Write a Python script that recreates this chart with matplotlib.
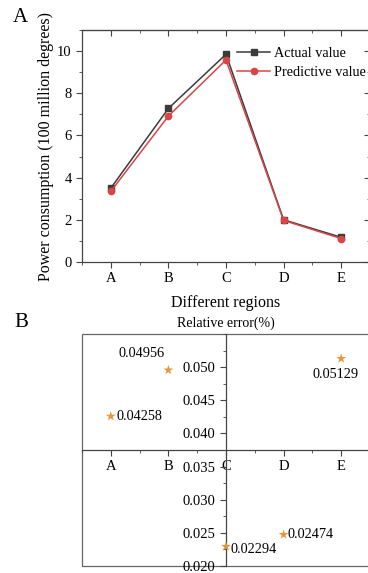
import matplotlib.pyplot as plt
from matplotlib.patches import Rectangle
from matplotlib.ticker import MultipleLocator

# ------------------------------------------------------------
# Data
# ------------------------------------------------------------
regions = ["A", "B", "C", "D", "E"]
actual_value = [3.50, 7.28, 9.85, 2.00, 1.17]
predictive_value = [3.35, 6.92, 9.58, 1.97, 1.11]
relative_error = [0.04258, 0.04956, 0.02294, 0.02474, 0.05129]
error_labels = ["0.04258", "0.04956", "0.02294", "0.02474", "0.05129"]

plt.rcParams['font.family'] = ['Liberation Serif', 'DejaVu Serif']

SPINE_COLOR = "#444444"
TICK_SIZE = 10.5
x_pos = list(range(1, len(regions) + 1))

fig = plt.figure(figsize=(3.68, 5.73), dpi=100)

# ============================================================
# Panel A: actual vs predictive power consumption
# ============================================================
ax1 = fig.add_axes([0.2228, 0.5428, 0.7826, 0.4048])
ax1.plot(x_pos, actual_value, color="#3b3b3b", marker="s", markersize=4,
         linewidth=1.1, label="Actual value")
ax1.plot(x_pos, predictive_value, color="#d94545", marker="o", markersize=4.5,
         linewidth=1.1, label="Predictive value")
ax1.set_xlim(0.5, 5.5)
ax1.set_ylim(0, 11)
ax1.set_xticks(x_pos)
ax1.set_xticklabels(regions)
ax1.set_yticks([0, 2, 4, 6, 8, 10])
ax1.xaxis.set_minor_locator(MultipleLocator(0.5))
ax1.yaxis.set_minor_locator(MultipleLocator(1))
ax1.tick_params(which="both", direction="out", labelsize=TICK_SIZE, color=SPINE_COLOR)
ax1.tick_params(which="major", length=4, width=0.8)
ax1.tick_params(which="minor", length=2.5, width=0.6)
for sp in ax1.spines.values():
    sp.set_color(SPINE_COLOR)
    sp.set_linewidth(0.9)

# mirrored ticks on top/right pointing inward
top = ax1.secondary_xaxis("top")
top.set_xticks(x_pos)
top.xaxis.set_minor_locator(MultipleLocator(0.5))
top.tick_params(which="both", direction="in", labeltop=False, color=SPINE_COLOR)
top.tick_params(which="major", length=4, width=0.8)
top.tick_params(which="minor", length=2.5, width=0.6)
top.spines["top"].set_color(SPINE_COLOR)
right = ax1.secondary_yaxis("right")
right.set_yticks([0, 2, 4, 6, 8, 10])
right.yaxis.set_minor_locator(MultipleLocator(1))
right.tick_params(which="both", direction="in", labelright=False, color=SPINE_COLOR)
right.tick_params(which="major", length=4, width=0.8)
right.tick_params(which="minor", length=2.5, width=0.6)

ax1.set_xlabel("Different regions", fontsize=11.5, labelpad=7)
ax1.set_ylabel("Power consumption (100 million degrees)", fontsize=11.5, labelpad=2)
ax1.legend(loc="upper left", bbox_to_anchor=(0.52, 0.95), frameon=False,
           fontsize=10.3, handlelength=2.3, handletextpad=0.25, labelspacing=0.4,
           borderaxespad=0)
fig.text(0.035, 0.97, "A", fontsize=15, ha="left", va="center")

# ============================================================
# Panel B: relative error, axes crossing in the middle
# ============================================================
ax2 = fig.add_axes([0.2228, 0.0122, 0.7826, 0.4049])
ax2.scatter(x_pos, relative_error, marker="*", s=55, color="#e8963a",
            edgecolors="none", zorder=3)
ax2.set_xlim(0.5, 5.5)
ax2.set_ylim(0.020, 0.055)

# centre crossing axes
ax2.spines["left"].set_position(("data", 3))
ax2.spines["bottom"].set_position(("data", 0.0375))
ax2.spines["top"].set_visible(False)
ax2.spines["right"].set_visible(False)
for sp in ("left", "bottom"):
    ax2.spines[sp].set_color(SPINE_COLOR)
    ax2.spines[sp].set_linewidth(0.9)
ax2.add_patch(Rectangle((0, 0), 1, 1, transform=ax2.transAxes, fill=False,
                        edgecolor="#666666", linewidth=0.9, clip_on=False))

ax2.set_xticks(x_pos)
ax2.set_xticklabels(regions)
ax2.set_yticks([0.020, 0.025, 0.030, 0.035, 0.040, 0.045, 0.050])
ax2.set_yticklabels(["0.020", "0.025", "0.030", "0.035", "0.040", "0.045", "0.050"])
ax2.xaxis.set_minor_locator(MultipleLocator(0.5))
ax2.yaxis.set_minor_locator(MultipleLocator(0.0025))
ax2.tick_params(which="both", direction="out", labelsize=TICK_SIZE, color=SPINE_COLOR)
ax2.tick_params(which="major", length=4, width=0.8)
ax2.tick_params(which="minor", length=2.5, width=0.6)
ax2.set_title("Relative error(%)", fontsize=10, pad=5)

# value labels next to the stars
offsets = [(4, 0, "left", "center"),
           (-3, 7, "right", "bottom"),
           (3, -2, "left", "center"),
           (3, 0, "left", "center"),
           (-4, -7, "center", "top")]
for x, y, txt, (dx, dy, ha, va) in zip(x_pos, relative_error, error_labels, offsets):
    ax2.annotate(txt, (x, y), xytext=(dx, dy), textcoords="offset points",
                 ha=ha, va=va, fontsize=10.3)
fig.text(0.04, 0.437, "B", fontsize=15, ha="left", va="center")

fig.savefig("out.png", dpi=100)
